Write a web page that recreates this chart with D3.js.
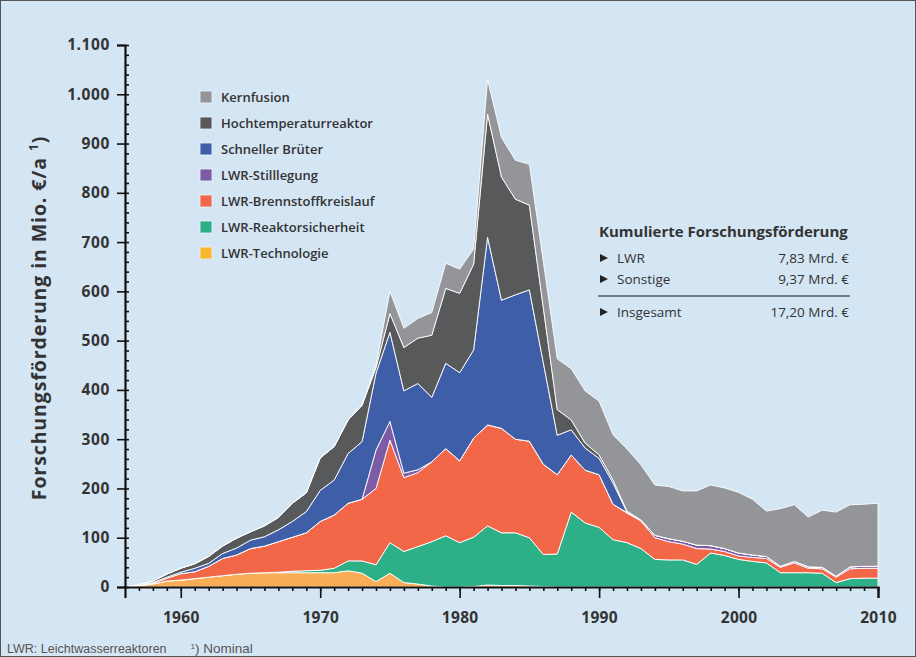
<!DOCTYPE html>
<html>
<head>
<meta charset="utf-8">
<title>Forschungsförderung Kerntechnik</title>
<script src="https://cdn.jsdelivr.net/npm/d3@7"></script>
<style>
  body { margin: 0; background: #ffffff; }
  svg { display: block; }
  .axis text { font-family: "Open Sans", sans-serif; font-weight: 700; fill: #333; }
  .legend text { font-family: "Open Sans", sans-serif; font-weight: 600; font-size: 13px; fill: #333; }
  .info text { font-family: "Open Sans", sans-serif; font-size: 13.5px; fill: #333; }
</style>
</head>
<body>
<svg id="chart" width="916" height="657"></svg>
<script>
  // years 1956 - 2010, values in Mio. € per year
  var years = d3.range(1956, 2011);

  var technologie = [0, 3, 6, 12, 14, 17, 20, 23, 26, 28, 29, 29, 29, 29, 29, 29, 33, 28, 11, 28,
    9, 6, 2, 0, 0, 1, 4, 3, 3, 2, 1, 0, 0, 0, 0, 0, 0, 0, 0, 0,
    0, 0, 0, 0, 0, 0, 0, 0, 0, 0, 0, 0, 0, 0, 0];
  var sicherheit = [0, 0, 0, 0, 0, 0, 0, 0, 0, 0, 0, 1, 3, 4, 5, 9, 20, 25, 34, 62,
    63, 76, 90, 104, 90, 100, 120, 107, 107, 98, 65, 67, 152, 130, 121, 96, 90, 78, 56, 55,
    55, 46, 69, 64, 56, 52, 49, 29, 29, 29, 28, 9, 17, 18, 18];
  var brennstoff = [0, 1, 2, 6, 13, 14, 22, 35, 39, 50, 54, 62, 69, 77, 99, 108, 117, 125, 155, 208,
    150, 150, 162, 177, 166, 201, 205, 212, 190, 196, 183, 161, 116, 107, 107, 72, 60, 56, 44, 37,
    32, 32, 8, 8, 7, 8, 9, 11, 20, 9, 9, 11, 20, 20, 20];
  var stilllegung = [0, 0, 0, 0, 0, 0, 0, 0, 0, 0, 0, 0, 0, 0, 0, 0, 0, 0, 78, 38,
    9, 6, 0, 0, 0, 0, 0, 0, 0, 0, 0, 0, 0, 0, 0, 0, 1, 2, 5, 6,
    6, 7, 7, 6, 6, 5, 4, 2, 3, 3, 3, 2, 4, 4, 4];
  var brueter = [0, 0, 1, 2, 3, 7, 6, 10, 14, 17, 19, 24, 32, 43, 63, 71, 101, 117, 156, 181,
    167, 175, 131, 173, 179, 179, 381, 260, 293, 307, 206, 80, 51, 45, 33, 43, 1, 0, 0, 0,
    0, 0, 0, 0, 0, 0, 0, 0, 0, 0, 0, 0, 0, 0, 0];
  var htr = [0, 1, 3, 6, 8, 9, 14, 15, 20, 17, 22, 25, 37, 38, 66, 68, 68, 74, 11, 38,
    88, 92, 126, 152, 161, 174, 250, 250, 194, 172, 112, 52, 20, 10, 7, 6, 2, 0, 0, 0,
    0, 0, 0, 0, 0, 0, 0, 0, 0, 0, 0, 0, 0, 0, 0];
  var fusion = [0, 0, 0, 0, 0, 0, 0, 0, 0, 0, 0, 0, 0, 0, 0, 0, 0, 0, 5, 45,
    39, 40, 46, 51, 49, 31, 70, 80, 79, 83, 93, 103, 104, 106, 109, 92, 126, 112, 102, 106,
    102, 110, 123, 123, 123, 113, 92, 117, 115, 101, 116, 130, 126, 126, 128];

  var keys = ["technologie", "sicherheit", "brennstoff", "stilllegung", "brueter", "htr", "fusion"];
  var labels = ["LWR-Technologie", "LWR-Reaktorsicherheit", "LWR-Brennstoffkreislauf", "LWR-Stilllegung",
    "Schneller Brüter", "Hochtemperaturreaktor", "Kernfusion"];
  var colors = ["#f9ad56", "#2db088", "#f16748", "#7e5ba6", "#3f5ea8", "#58595b", "#949599"];
  var swatchColors = ["#fbb630", "#2db088", "#f16748", "#7e5ba6", "#3f5ea8", "#58595b", "#949599"];

  var infoRows = [["LWR", "7,83 Mrd. €"], ["Sonstige", "9,37 Mrd. €"]];
  var infoTotal = ["Insgesamt", "17,20 Mrd. €"];

  var series = { technologie: technologie, sicherheit: sicherheit, brennstoff: brennstoff,
    stilllegung: stilllegung, brueter: brueter, htr: htr, fusion: fusion };
  var table = years.map(function(yr, i) {
    var row = { year: yr };
    keys.forEach(function(k) { row[k] = series[k][i]; });
    return row;
  });

  var svg = d3.select("#chart");

  // background + frame
  svg.append("rect").attr("width", 916).attr("height", 657).attr("fill", "#d4e5f4");
  svg.append("rect").attr("x", 0.5).attr("y", 0.5).attr("width", 915).attr("height", 656)
    .attr("fill", "none").attr("stroke", "#555").attr("stroke-width", 1);

  var defs = svg.append("defs");
  defs.append("filter").attr("id", "shadow")
    .attr("x", "-10%").attr("y", "-10%").attr("width", "125%").attr("height", "125%")
    .append("feDropShadow")
    .attr("dx", 5).attr("dy", 3).attr("stdDeviation", 5)
    .attr("flood-color", "#6d86a3").attr("flood-opacity", 0.45);

  var x = d3.scaleLinear().domain([1956, 2010]).range([125, 878]);
  var y = d3.scaleLinear().domain([0, 1100]).range([587, 45]);

  var stack = d3.stack().keys(keys);
  var layers = stack(table);

  var area = d3.area()
    .x(function(d) { return x(d.data.year); })
    .y0(function(d) { return y(d[0]); })
    .y1(function(d) { return y(d[1]); });

  // shadow behind the whole stack
  var top = layers[layers.length - 1];
  svg.append("path")
    .datum(top)
    .attr("d", d3.area().x(function(d) { return x(d.data.year); })
      .y0(y(0)).y1(function(d) { return y(d[1]); }))
    .attr("fill", "#949599")
    .attr("filter", "url(#shadow)");

  svg.append("g").selectAll("path")
    .data(layers)
    .enter().append("path")
    .attr("d", area)
    .attr("fill", function(d, i) { return colors[i]; })
    .attr("stroke", "#ffffff")
    .attr("stroke-width", 0.9)
    .attr("stroke-linejoin", "round");

  // white outline along the top edge
  svg.append("path")
    .datum(top)
    .attr("d", d3.line().x(function(d) { return x(d.data.year); }).y(function(d) { return y(d[1]); }))
    .attr("fill", "none").attr("stroke", "#ffffff").attr("stroke-width", 1.3);

  // y axis
  var deFormat = d3.formatLocale({ decimal: ",", thousands: ".", grouping: [3], currency: ["", " €"] }).format(",d");
  var yAxis = svg.append("g").attr("class", "axis").attr("transform", "translate(" + x(1956) + ",0)")
    .call(d3.axisLeft(y).tickValues(d3.range(0, 1101, 100)).tickSize(8).tickPadding(7).tickFormat(deFormat));
  yAxis.selectAll("text").style("font-size", "15.5px").style("letter-spacing", "0.6px");
  svg.append("g").attr("transform", "translate(" + x(1956) + ",0)")
    .call(d3.axisRight(y).tickValues(d3.range(0, 1101, 20)).tickSize(4).tickFormat(""))
    .select(".domain").remove();

  // x axis
  var xAxis = svg.append("g").attr("class", "axis").attr("transform", "translate(0," + y(0) + ")")
    .call(d3.axisBottom(x).tickValues(d3.range(1960, 2011, 10)).tickSize(11).tickPadding(14).tickFormat(d3.format("d")));
  xAxis.selectAll("text").style("font-size", "15.5px").style("letter-spacing", "0.3px");
  svg.append("g").attr("transform", "translate(0," + y(0) + ")")
    .call(d3.axisBottom(x).tickValues(d3.range(1957, 2011)).tickSize(4).tickFormat(""))
    .select(".domain").remove();

  svg.selectAll(".tick line").attr("stroke", "#111").attr("stroke-width", 1.6);
  svg.selectAll(".domain").attr("stroke", "#111").attr("stroke-width", 2.2);

  // y axis title
  var yt = svg.append("text")
    .attr("transform", "translate(46,318) rotate(-90)")
    .attr("text-anchor", "middle")
    .style("font-family", "'Open Sans', sans-serif")
    .style("font-weight", 700)
    .style("font-size", "19.5px")
    .style("letter-spacing", "0.9px")
    .style("fill", "#333");
  yt.append("tspan").text("Forschungsförderung in Mio. €/a ");
  yt.append("tspan").attr("baseline-shift", "super").style("font-size", "12px").text("1");
  yt.append("tspan").text(")");

  // legend (top item = top layer)
  var legend = svg.append("g").attr("class", "legend");
  var legendOrder = d3.range(keys.length).reverse();
  legendOrder.forEach(function(k, i) {
    var g = legend.append("g").attr("transform", "translate(200," + (97 + i * 26) + ")");
    g.append("rect").attr("x", 0).attr("y", -6).attr("width", 12).attr("height", 12)
      .attr("fill", swatchColors[k]).attr("stroke", "#eef4fa").attr("stroke-width", 0.8);
    g.append("text").attr("x", 21).attr("dy", "0.35em").text(labels[k]);
  });

  // cumulated funding box
  var info = svg.append("g").attr("class", "info");
  info.append("text").attr("x", 599).attr("y", 237)
    .style("font-weight", 700).style("font-size", "15px").text("Kumulierte Forschungsförderung");
  function infoRow(row, yy) {
    info.append("path").attr("d", "M600," + (yy - 9) + "L608," + (yy - 5) + "L600," + (yy - 1) + "Z").attr("fill", "#222");
    info.append("text").attr("x", 617).attr("y", yy).text(row[0]);
    info.append("text").attr("x", 849).attr("y", yy).attr("text-anchor", "end").text(row[1]);
  }
  infoRows.forEach(function(r, i) { infoRow(r, 263 + i * 21); });
  info.append("line").attr("x1", 598).attr("x2", 850).attr("y1", 296).attr("y2", 296)
    .attr("stroke", "#111").attr("stroke-width", 1.2);
  infoRow(infoTotal, 317);

  // footnote
  var fn = svg.append("text").attr("x", 7).attr("y", 653)
    .style("font-family", "'Liberation Sans Narrow', 'Arial Narrow', sans-serif")
    .style("font-stretch", "condensed")
    .style("font-size", "12.5px").style("fill", "#555");
  fn.append("tspan").text("LWR: Leichtwasserreaktoren");
  fn.append("tspan").attr("dx", 24).attr("baseline-shift", "super").style("font-size", "8px").text("1");
  fn.append("tspan").style("font-size", "13.5px").text(") Nominal");
</script>
</body>
</html>
